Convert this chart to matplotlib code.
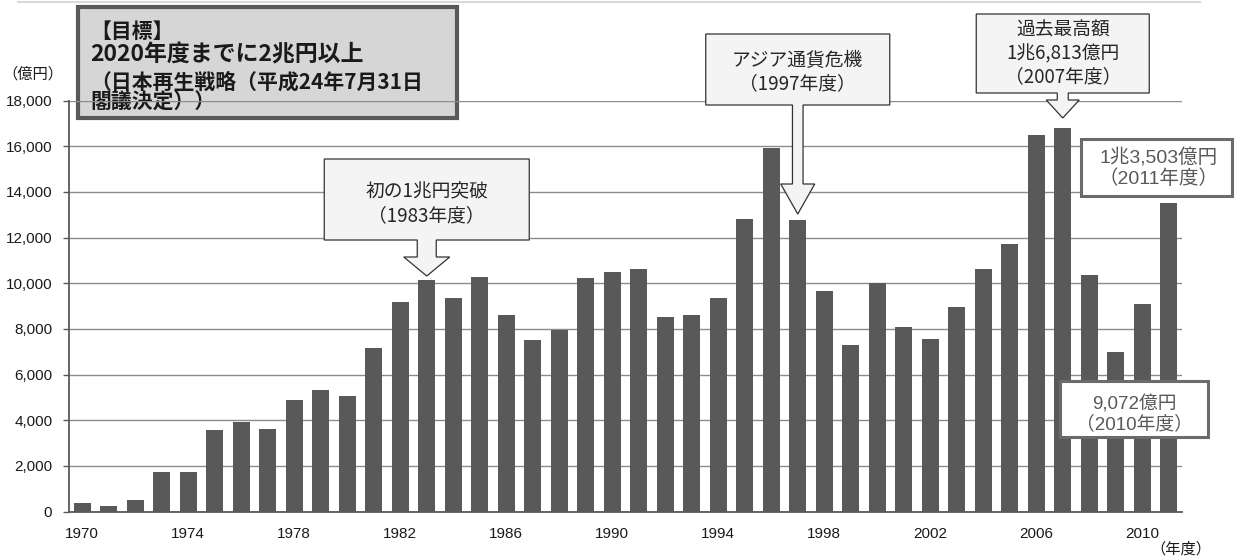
import matplotlib
matplotlib.use("Agg")
import matplotlib.pyplot as plt
from matplotlib.patches import Polygon, Rectangle
from matplotlib.lines import Line2D

# ---------------- data ----------------
years = list(range(1970, 2012))
values = [390, 230, 500, 1710, 1710, 3560, 3930, 3610, 4880, 5330,
          5080, 7140, 9180, 10130, 9330, 10280, 8600, 7500, 7930, 10230,
          10500, 10640, 8500, 8600, 9330, 12820, 15920, 12760, 9660, 7280,
          10000, 8080, 7550, 8970, 10600, 11710, 16500, 16813, 10340, 6970,
          9072, 13503]
x_tick_years = [1970, 1974, 1978, 1982, 1986, 1990, 1994, 1998, 2002, 2006, 2010]
y_ticks = [0, 2000, 4000, 6000, 8000, 10000, 12000, 14000, 16000, 18000]
y_unit = "（億円）"
x_unit = "（年度）"
goal_lines = ["【目標】", "2020年度までに2兆円以上", "（日本再生戦略（平成24年7月31日", "閣議決定））"]
callout_years = [1983, 1997, 2007]
callout_texts = ["初の1兆円突破\n（1983年度）",
                 "アジア通貨危機\n（1997年度）",
                 "過去最高額\n1兆6,813億円\n（2007年度）"]
box_2011 = "1兆3,503億円\n（2011年度）"
box_2010 = "9,072億円\n（2010年度）"

# ---------------- layout ----------------
W, H = 1235, 558
CJK = ["Noto Sans CJK JP", "DejaVu Sans"]
LAT = ["Liberation Sans", "Noto Sans CJK JP", "DejaVu Sans"]

fig = plt.figure(figsize=(W / 100, H / 100), dpi=100)
fig.patch.set_facecolor("white")

def fx(x):
    return x / W

def fy(y):
    return 1 - y / H

ax = fig.add_axes([fx(69), fy(511.5), (1182 - 69) / W, (511.5 - 100.5) / H])
ax.set_facecolor("none")
ax.bar(years, values, width=0.63, color="#595959", zorder=2)
ax.set_xlim(1969.5, 2011.5)
ax.set_ylim(0, 18000)
ax.set_yticks(y_ticks)
ax.set_yticklabels([f"{v:,}" for v in y_ticks])
ax.set_xticks(x_tick_years)
ax.set_xticklabels([str(y) for y in x_tick_years])
ax.yaxis.grid(True, color="#8c8c8c", lw=1.0)
ax.set_axisbelow(True)
for s in ["top", "right"]:
    ax.spines[s].set_visible(False)
for s in ["left", "bottom"]:
    ax.spines[s].set_color("#595959")
    ax.spines[s].set_linewidth(1.3)
ax.tick_params(axis="y", length=4, width=1.0, color="#595959", pad=8)
ax.tick_params(axis="x", length=0, pad=11)
for lab in ax.get_xticklabels() + ax.get_yticklabels():
    lab.set_family(LAT)
    lab.set_fontsize(11)
    lab.set_color("#1a1a1a")

# top thin frame line
fig.add_artist(Line2D([fx(18), fx(1200)], [fy(1.5), fy(1.5)], color="#d9d9d9", lw=1.5))

# unit labels
fig.text(fx(33), fy(74), y_unit, ha="center", va="center", fontsize=11, family=CJK, color="#1a1a1a")
fig.text(fx(1181), fy(549), x_unit, ha="center", va="center", fontsize=11, family=CJK, color="#1a1a1a")

# goal box (behind axes so the gridline crosses it)
fig.add_artist(Rectangle((fx(78), fy(118)), (457 - 78) / W, (118 - 7) / H,
                         transform=fig.transFigure, facecolor="#d6d6d6",
                         edgecolor="#595959", lw=3.0, zorder=-2))
goal_y = [31, 55, 82, 102]
goal_sizes = [15, 16.5, 15, 15]
for txt, yy, fs in zip(goal_lines, goal_y, goal_sizes):
    fig.text(fx(90), fy(yy), txt, ha="left", va="center", fontsize=fs,
             family=CJK, fontweight="bold", color="#1a1a1a", zorder=-1)

# callouts with down arrows
geoms = [
    # width, top, bottom, stem half, head half, head top, tip, text center y
    (205, 159, 240, 9.5, 23, 257, 276, 204),
    (184, 34, 105, 5.3, 17, 184, 214, 72),
    (173, 14, 93, 5.5, 16.5, 100, 118, 53.5),
]
for yr, txt, g in zip(callout_years, callout_texts, geoms):
    w, top, bot, shw, hhw, htop, tip, ty = g
    cx = ax.transData.transform((yr, 0))[0]
    pts = [(cx - w / 2, top), (cx + w / 2, top), (cx + w / 2, bot), (cx + shw, bot),
           (cx + shw, htop), (cx + hhw, htop), (cx, tip), (cx - hhw, htop),
           (cx - shw, htop), (cx - shw, bot), (cx - w / 2, bot)]
    poly = Polygon([(fx(x), fy(y)) for x, y in pts], closed=True,
                   transform=fig.transFigure, facecolor="#f4f4f4",
                   edgecolor="#333333", lw=0.9, zorder=5)
    fig.add_artist(poly)
    fig.text(fx(cx), fy(ty), txt, ha="center", va="center", fontsize=13.5,
             family=CJK, color="#262626", linespacing=1.15, zorder=6)

# value boxes (2011, 2010)
for (x0, y0, x1, y1), txt, tx, ty, fs in [
        ((1081, 139, 1232, 196), box_2011, 1159, 168, 14),
        ((1060, 381, 1208, 437), box_2010, 1134, 414, 13.5)]:
    fig.add_artist(Rectangle((fx(x0), fy(y1)), (x1 - x0) / W, (y1 - y0) / H,
                             transform=fig.transFigure, facecolor="white",
                             edgecolor="#6b6b6b", lw=2.2, zorder=5))
    fig.text(fx(tx), fy(ty), txt, ha="center", va="center", fontsize=fs,
             family=LAT, color="#595959", linespacing=1.15, zorder=6)

fig.savefig("out.png", dpi=100)
